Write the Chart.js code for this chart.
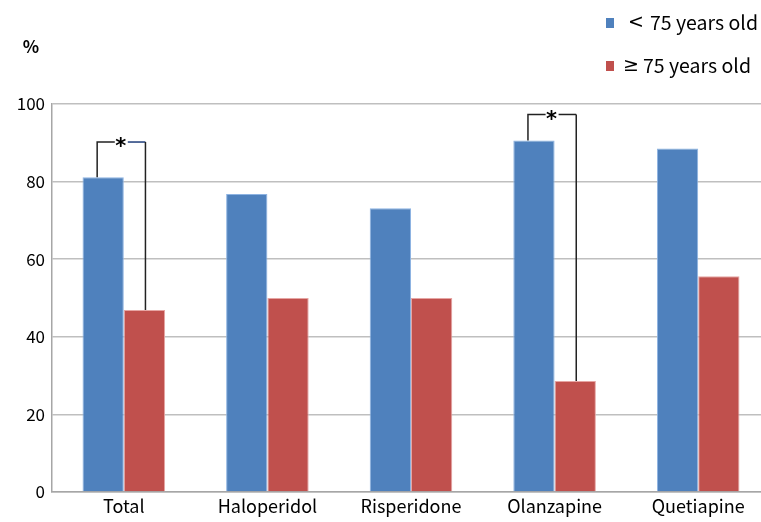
<!DOCTYPE html>
<html>
<head>
<meta charset="utf-8">
<script src="https://cdn.jsdelivr.net/npm/chart.js@4/dist/chart.umd.min.js"></script>
<style>
html, body { margin: 0; padding: 0; background: #fff; overflow: hidden; }
#wrap { width: 770px; height: 522px; }
</style>
</head>
<body>
<div id="wrap"><canvas id="chart" width="770" height="522"></canvas></div>
<script>
var categories = ['Total', 'Haloperidol', 'Risperidone', 'Olanzapine', 'Quetiapine'];
var seriesNames = ['< 75 years old', '\u2265 75 years old'];
var under75 = [81.1, 76.8, 73.1, 90.6, 88.5];
var over75 = [46.9, 50.0, 50.0, 28.6, 55.6];
var yTicks = [0, 20, 40, 60, 80, 100];
// significance brackets: category index and bracket height (in %)
var sigIndex = [0, 3];
var sigLevel = [90.2, 97.3];

var FONT = '"Noto Sans CJK KR", "Noto Sans", sans-serif';
var blue = '#4F81BD';
var red = '#C0504D';

// 括號與星號
var bracketPlugin = {
    id: 'brackets',
    afterDatasetsDraw: (chart) => {
        var ctx = chart.ctx;
        var yScale = chart.scales.y;
        var m0 = chart.getDatasetMeta(0);
        var m1 = chart.getDatasetMeta(1);
        ctx.save();
        ctx.lineWidth = 1.5;
        sigIndex.forEach((idx, k) => {
            var b0 = m0.data[idx];
            var b1 = m1.data[idx];
            var yTop = yScale.getPixelForValue(sigLevel[k]);
            var x0 = b0.x - 6;
            var x1 = b1.x;
            var mid = (x0 + x1) / 2;
            ctx.strokeStyle = '#222';
            ctx.beginPath();
            ctx.moveTo(x0, b0.y);
            ctx.lineTo(x0, yTop);
            ctx.lineTo(mid - 6, yTop);
            ctx.stroke();
            ctx.strokeStyle = k == 0 ? '#1F3D7A' : '#222';
            ctx.beginPath();
            ctx.moveTo(mid + 7, yTop);
            ctx.lineTo(x1 + 1, yTop);
            ctx.stroke();
            ctx.strokeStyle = '#222';
            ctx.beginPath();
            ctx.moveTo(x1 + 1, yTop);
            ctx.lineTo(x1 + 1, b1.y);
            ctx.stroke();
            ctx.fillStyle = '#000';
            ctx.font = 'bold 21px "DejaVu Sans", sans-serif';
            ctx.textAlign = 'center';
            ctx.textBaseline = 'middle';
            ctx.fillText('*', mid, yTop + 6);
        });
        ctx.restore();
    },
    afterDraw: (chart) => {
        var ctx = chart.ctx;
        ctx.save();
        // % 標籤
        ctx.fillStyle = '#000';
        ctx.font = 'bold 17px ' + FONT;
        ctx.textAlign = 'center';
        ctx.textBaseline = 'middle';
        ctx.fillText('%', 31, 47);
        // 圖例
        var cols = [blue, red];
        var ys = [23, 66];
        var symX = [628, 623];
        var txtX = [650, 643];
        ctx.textAlign = 'left';
        for (var i = 0; i < 2; i++) {
            var sp = seriesNames[i].indexOf(' ');
            ctx.fillStyle = cols[i];
            ctx.fillRect(606, ys[i] - 5, 8, 10);
            ctx.fillStyle = '#000';
            ctx.font = '19px "DejaVu Sans", sans-serif';
            ctx.fillText(seriesNames[i].slice(0, sp), symX[i], ys[i]);
            ctx.font = '19.5px ' + FONT;
            ctx.fillText(seriesNames[i].slice(sp + 1), txtX[i], ys[i]);
        }
        ctx.restore();
    }
};

var chart = new Chart(document.getElementById('chart').getContext('2d'), {
    type: 'bar',
    data: {
        labels: categories,
        datasets: [{
            label: seriesNames[0],
            data: under75,
            backgroundColor: blue,
            borderColor: '#8DB3E2',
            borderWidth: 1
        }, {
            label: seriesNames[1],
            data: over75,
            backgroundColor: red,
            borderColor: '#E6A5A3',
            borderWidth: 1
        }]
    },
    options: {
        responsive: false,
        animation: false,
        devicePixelRatio: 1,
        layout: { padding: { top: 104, left: 0, right: 0, bottom: 0 } },
        datasets: { bar: { barPercentage: 1, categoryPercentage: 0.575 } },
        plugins: { legend: { display: false }, tooltip: { enabled: false } },
        scales: {
            x: {
                grid: { display: false, drawTicks: false },
                border: { color: '#A6A6A6', width: 1.5 },
                ticks: { color: '#000', font: { family: FONT, size: 18 }, padding: 3 },
                afterFit: (s) => { s.height = 30; }
            },
            y: {
                min: 0,
                max: 100,
                afterBuildTicks: (s) => { s.ticks = yTicks.map(v => ({ value: v })); },
                grid: { color: '#BFBFBF', lineWidth: 1.5, drawTicks: false },
                border: { color: '#A6A6A6', width: 1.5 },
                ticks: { color: '#000', font: { family: FONT, size: 17 }, padding: 7 },
                afterFit: (s) => { s.width = 52; }
            }
        }
    },
    plugins: [bracketPlugin]
});
</script>
</body>
</html>
